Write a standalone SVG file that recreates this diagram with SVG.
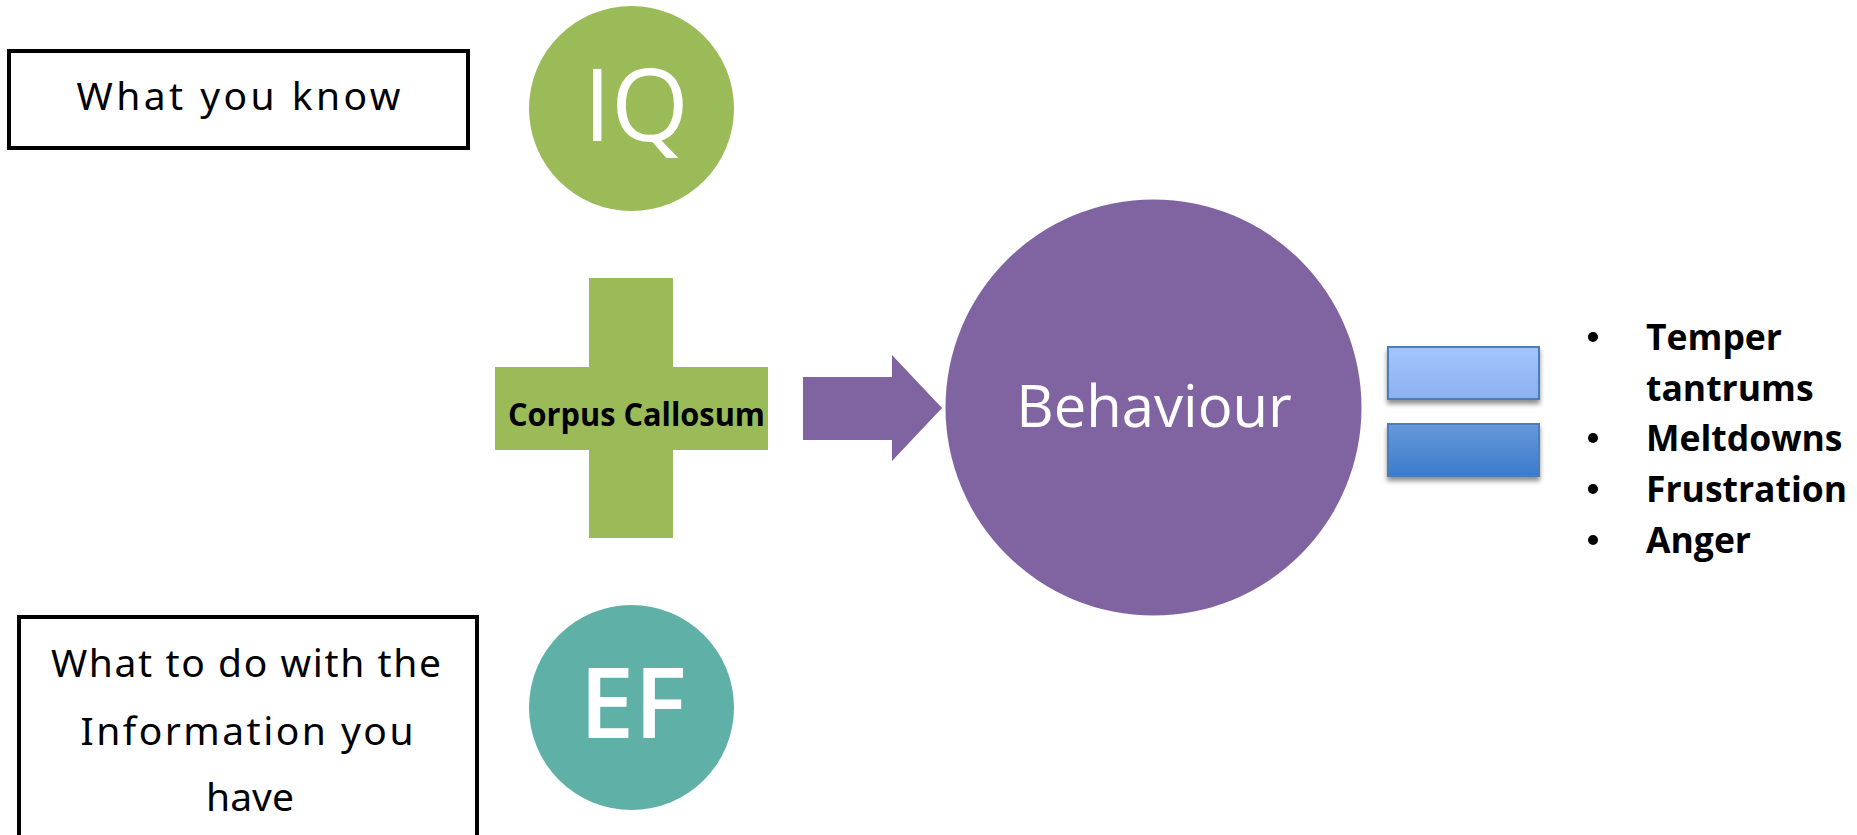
<svg xmlns="http://www.w3.org/2000/svg" width="1857" height="835" viewBox="0 0 1857 835">
<style>
.hand{font-family:"Noto Sans","Open Sans",sans-serif;font-size:39px;fill:#000;text-anchor:middle}
.box{fill:#fff;stroke:#000;stroke-width:4}
.big{font-family:"Open Sans","Noto Sans",sans-serif;fill:#fff;text-anchor:middle}
.bold{font-family:"Open Sans","Noto Sans",sans-serif;font-weight:700;fill:#000}
.eq{stroke:#4A7EBB;stroke-width:2;filter:url(#sh)}
</style>
<defs>
<linearGradient id="g1" x1="0" y1="0" x2="0" y2="1"><stop offset="0" stop-color="#A3C5FF"/><stop offset="1" stop-color="#8CB1EE"/></linearGradient>
<linearGradient id="g2" x1="0" y1="0" x2="0" y2="1"><stop offset="0" stop-color="#6799DC"/><stop offset="1" stop-color="#3C7BCA"/></linearGradient>
<filter id="sh" x="-10%" y="-20%" width="120%" height="160%"><feGaussianBlur in="SourceAlpha" stdDeviation="2.5"/><feOffset dy="4" result="b"/><feComponentTransfer><feFuncA type="linear" slope="0.45"/></feComponentTransfer><feMerge><feMergeNode/><feMergeNode in="SourceGraphic"/></feMerge></filter>
</defs>
<rect width="1857" height="835" fill="#fff"/>
<g id="what-you-know">
<rect class="box" x="9" y="51" width="459" height="97"/>
<text class="hand" x="238.5" y="110" textLength="324" lengthAdjust="spacing">What you know</text>
</g>
<g id="what-to-do">
<rect class="box" x="19" y="617" width="458" height="230"/>
<text class="hand" x="246" y="677" textLength="390" lengthAdjust="spacing">What to do with the</text>
<text class="hand" x="247" y="745" textLength="333" lengthAdjust="spacing">Information you</text>
<text class="hand" x="250" y="811">have</text>
</g>
<g id="iq">
<circle cx="631.5" cy="108.5" r="102.5" fill="#9BBB59"/>
<text class="big" x="636" y="141" font-size="100">IQ</text>
</g>
<g id="ef">
<circle cx="631.5" cy="707.5" r="102.5" fill="#5FB0A6"/>
<text class="big" x="633" y="738" font-size="98" font-weight="600">EF</text>
</g>
<g id="corpus-callosum">
<path d="M589 278H673V367H768V450H673V538H589V450H495V367H589Z" fill="#9BBB59"/>
<text class="bold" x="508" y="426" font-size="33" textLength="257" lengthAdjust="spacingAndGlyphs">Corpus Callosum</text>
</g>
<g id="connectors">
<path d="M803 377H892V355L942 408L892 461V440H803Z" fill="#8064A2"/>
</g>
<g id="behaviour">
<circle cx="1153.5" cy="407.5" r="208" fill="#8064A2"/>
<text class="big" x="1154" y="427" font-size="58">Behaviour</text>
</g>
<g id="equals">
<rect class="eq" x="1388" y="347" width="151" height="52" fill="url(#g1)"/>
<rect class="eq" x="1388" y="424" width="151" height="52" fill="url(#g2)"/>
</g>
<g id="outcomes">
<circle cx="1593" cy="337" r="5"/>
<circle cx="1593" cy="438" r="5"/>
<circle cx="1593" cy="489" r="5"/>
<circle cx="1593" cy="540" r="5"/>
<text class="bold" font-size="35.5" x="1646" y="350">Temper</text>
<text class="bold" font-size="35.5" x="1646" y="401">tantrums</text>
<text class="bold" font-size="35.5" x="1646" y="451">Meltdowns</text>
<text class="bold" font-size="35.5" x="1646" y="502">Frustration</text>
<text class="bold" font-size="35.5" x="1646" y="553">Anger</text>
</g>
</svg>
